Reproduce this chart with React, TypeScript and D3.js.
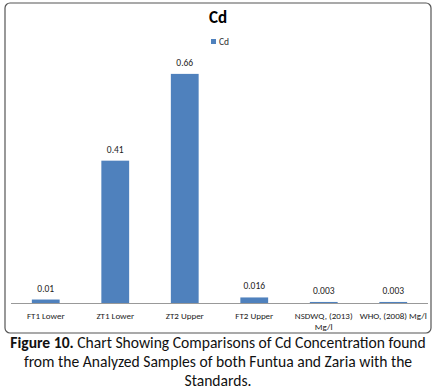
import React from "react";
import * as d3 from "d3";

const categories = ["FT1 Lower", "ZT1 Lower", "ZT2 Upper", "FT2 Upper", "NSDWQ, (2013) Mg/l", "WHO, (2008) Mg/l"];
const categoryLines = [["FT1 Lower"], ["ZT1 Lower"], ["ZT2 Upper"], ["FT2 Upper"], ["NSDWQ, (2013)", "Mg/l"], ["WHO, (2008) Mg/l"]];
const values = [0.01, 0.41, 0.66, 0.016, 0.003, 0.003];
const valueLabels = ["0.01", "0.41", "0.66", "0.016", "0.003", "0.003"];
const seriesName = "Cd";
const title = "Cd";

export default function App() {
  const W = 437, H = 392;
  const x = d3.scaleBand<string>().domain(categories).range([11, 428]).paddingInner(0.6).paddingOuter(0.3);
  const y = d3.scaleLinear().domain([0, 0.7]).range([303, 60]);
  const font = "Calibri, Carlito, 'Open Sans', 'Noto Sans', sans-serif";
  return (
    <svg width={W} height={H} style={{ position: "absolute", left: 0, top: 0 }} fontFamily={font}>
      <rect x={0} y={0} width={W} height={H} fill="#fff" />
      <rect x={5} y={3} width={426} height={330} rx={5} fill="#fff" stroke="#555" strokeWidth={1.2} />
      <text x={218} y={23} textAnchor="middle" fontSize={17} fontWeight="bold" fill="#000">{title}</text>
      <rect x={211} y={39} width={5} height={5} fill="#4F81BD" />
      <text x={219} y={45} fontSize={9.5} fill="#333">{seriesName}</text>
      {categories.map((c, i) => (
        <g key={c}>
          <rect x={x(c)} y={y(values[i])} width={x.bandwidth()} height={303 - y(values[i])} fill="#4F81BD" />
          <text x={x(c)! + x.bandwidth() / 2} y={y(values[i]) - 8} textAnchor="middle" fontSize={9.5} fill="#222">{valueLabels[i]}</text>
          {categoryLines[i].map((ln, j) => (
            <text key={j} x={x(c)! + x.bandwidth() / 2} y={319 + j * 11} textAnchor="middle" fontSize={9} fill="#222">{ln}</text>
          ))}
        </g>
      ))}
      <line x1={11} x2={428} y1={303.5} y2={303.5} stroke="#999" strokeWidth={1} />
      <text x={218} y={348} textAnchor="middle" fontSize={15.6} fill="#111">
        <tspan fontWeight="bold">Figure 10.</tspan> Chart Showing Comparisons of Cd Concentration found
      </text>
      <text x={218} y={367} textAnchor="middle" fontSize={15.6} fill="#111">from the Analyzed Samples of both Funtua and Zaria with the</text>
      <text x={218} y={386} textAnchor="middle" fontSize={15.6} fill="#111">Standards.</text>
    </svg>
  );
}
